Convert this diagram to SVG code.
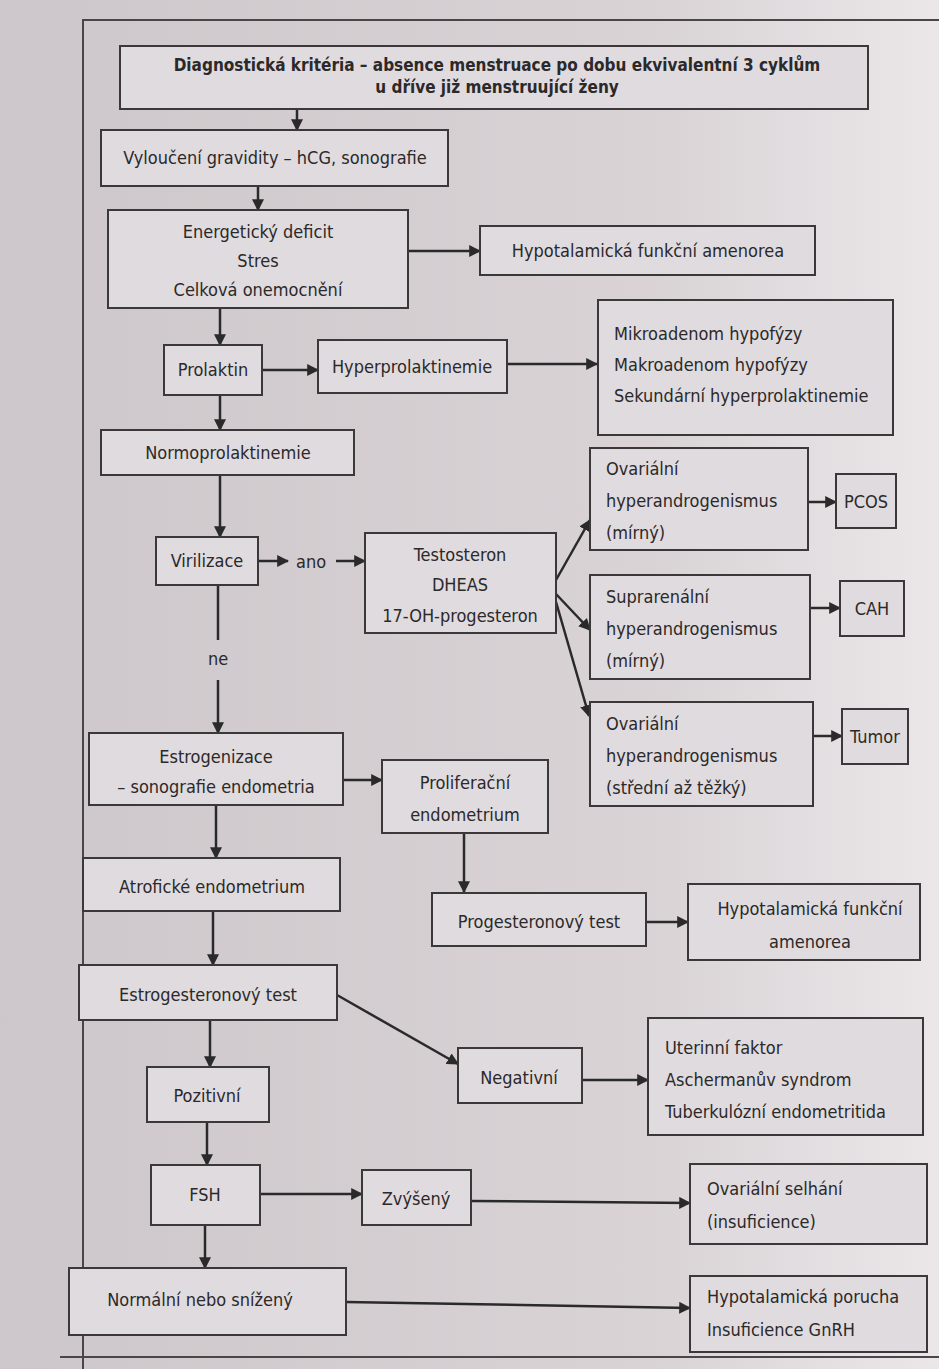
<svg xmlns="http://www.w3.org/2000/svg" width="939" height="1369" viewBox="0 0 939 1369">
<defs>
<linearGradient id="bg" x1="0" y1="0" x2="1" y2="0">
<stop offset="0" stop-color="#cdc6ca"/>
<stop offset="0.7" stop-color="#d9d3d6"/>
<stop offset="1" stop-color="#ebe7e9"/>
</linearGradient>
<marker id="ah2" viewBox="0 0 10 10" refX="9" refY="5" markerWidth="12" markerHeight="12" markerUnits="userSpaceOnUse" orient="auto">
<path d="M0,0 L10,5 L0,10 z" fill="#2a2a2a"/>
</marker>
</defs>
<style>
.box{fill:#e0dbde;stroke:#3a3838;stroke-width:2}
.t{font-family:"DejaVu Sans Condensed","Liberation Sans Narrow","DejaVu Sans",sans-serif;font-stretch:condensed;font-size:18px;fill:#2b2929}
.c{text-anchor:middle}
.b{font-weight:bold;font-size:17px}
.ln{stroke:#2a2a2a;stroke-width:2.5;fill:none;marker-end:url(#ah2)}
</style>
<rect x="0" y="0" width="939" height="1369" fill="url(#bg)"/>
<path d="M83,1369 L83,20 L939,20 M60,1357 L939,1357" stroke="#4a4648" stroke-width="2" fill="none"/>
<g id="connectors">
<line class="ln" x1="297" y1="109" x2="297" y2="130"/>
<line class="ln" x1="258" y1="186" x2="258" y2="210"/>
<line class="ln" x1="408" y1="251" x2="480" y2="251"/>
<line class="ln" x1="220" y1="308" x2="220" y2="345"/>
<line class="ln" x1="262" y1="370" x2="318" y2="370"/>
<line class="ln" x1="507" y1="364" x2="597" y2="364"/>
<line class="ln" x1="220" y1="395" x2="220" y2="430"/>
<line class="ln" x1="220" y1="475" x2="220" y2="537"/>
<line class="ln" x1="259" y1="561" x2="288" y2="561"/>
<line class="ln" x1="336" y1="561" x2="365" y2="561"/>
<line class="ln" x1="556" y1="580" x2="590" y2="520"/>
<line class="ln" x1="556" y1="594" x2="590" y2="630"/>
<line class="ln" x1="556" y1="602" x2="589" y2="716"/>
<line class="ln" x1="808" y1="502" x2="836" y2="502"/>
<line class="ln" x1="810" y1="608" x2="840" y2="608"/>
<line class="ln" x1="813" y1="736" x2="842" y2="736"/>
<line stroke="#2a2a2a" stroke-width="2.5" x1="218" y1="585" x2="218" y2="640"/>
<line class="ln" x1="218" y1="680" x2="218" y2="733"/>
<line class="ln" x1="343" y1="780" x2="382" y2="780"/>
<line class="ln" x1="216" y1="805" x2="216" y2="858"/>
<line class="ln" x1="464" y1="833" x2="464" y2="892"/>
<line class="ln" x1="646" y1="922" x2="688" y2="922"/>
<line class="ln" x1="213" y1="911" x2="213" y2="965"/>
<line class="ln" x1="337" y1="995" x2="458" y2="1064"/>
<line class="ln" x1="210" y1="1020" x2="210" y2="1067"/>
<line class="ln" x1="582" y1="1080" x2="648" y2="1080"/>
<line class="ln" x1="207" y1="1122" x2="207" y2="1165"/>
<line class="ln" x1="260" y1="1194" x2="362" y2="1194"/>
<line class="ln" x1="471" y1="1201" x2="690" y2="1203"/>
<line class="ln" x1="205" y1="1225" x2="205" y2="1268"/>
<line class="ln" x1="346" y1="1302" x2="690" y2="1308"/>
</g>
<g id="title"><rect class="box" x="120" y="46" width="748" height="63"/>
<text class="t c b" x="497" y="71">Diagnostická kritéria – absence menstruace po dobu ekvivalentní 3 cyklům</text>
<text class="t c b" x="497" y="93">u dříve již menstruující ženy</text></g>
<g id="gravidita"><rect class="box" x="101" y="130" width="347" height="56"/>
<text class="t c" x="275" y="164">Vyloučení gravidity – hCG, sonografie</text></g>
<g id="deficit"><rect class="box" x="108" y="210" width="300" height="98"/>
<text class="t c" x="258" y="238">Energetický deficit</text>
<text class="t c" x="258" y="267">Stres</text>
<text class="t c" x="258" y="296">Celková onemocnění</text></g>
<g id="hfa1"><rect class="box" x="480" y="226" width="335" height="49"/>
<text class="t c" x="648" y="257">Hypotalamická funkční amenorea</text></g>
<g id="prolaktin"><rect class="box" x="164" y="345" width="98" height="50"/>
<text class="t c" x="213" y="376">Prolaktin</text></g>
<g id="hyperprl"><rect class="box" x="318" y="340" width="189" height="53"/>
<text class="t c" x="412" y="373">Hyperprolaktinemie</text></g>
<g id="adenom"><rect class="box" x="598" y="300" width="295" height="135"/>
<text class="t" x="614" y="340">Mikroadenom hypofýzy</text>
<text class="t" x="614" y="371">Makroadenom hypofýzy</text>
<text class="t" x="614" y="402">Sekundární hyperprolaktinemie</text></g>
<g id="normoprl"><rect class="box" x="101" y="430" width="253" height="45"/>
<text class="t c" x="228" y="459">Normoprolaktinemie</text></g>
<g id="virilizace"><rect class="box" x="156" y="537" width="102" height="48"/>
<text class="t c" x="207" y="567">Virilizace</text></g>
<text id="ano" class="t c" x="311" y="568">ano</text>
<g id="testosteron"><rect class="box" x="365" y="533" width="191" height="100"/>
<text class="t c" x="460" y="561">Testosteron</text>
<text class="t c" x="460" y="591">DHEAS</text>
<text class="t c" x="460" y="622">17-OH-progesteron</text></g>
<g id="ovar1"><rect class="box" x="590" y="448" width="218" height="102"/>
<text class="t" x="606" y="475">Ovariální</text>
<text class="t" x="606" y="507">hyperandrogenismus</text>
<text class="t" x="606" y="539">(mírný)</text></g>
<g id="pcos"><rect class="box" x="836" y="474" width="60" height="54"/>
<text class="t c" x="866" y="508">PCOS</text></g>
<g id="supra"><rect class="box" x="590" y="575" width="220" height="104"/>
<text class="t" x="606" y="603">Suprarenální</text>
<text class="t" x="606" y="635">hyperandrogenismus</text>
<text class="t" x="606" y="667">(mírný)</text></g>
<g id="cah"><rect class="box" x="840" y="581" width="64" height="55"/>
<text class="t c" x="872" y="615">CAH</text></g>
<g id="ovar2"><rect class="box" x="590" y="702" width="223" height="104"/>
<text class="t" x="606" y="730">Ovariální</text>
<text class="t" x="606" y="762">hyperandrogenismus</text>
<text class="t" x="606" y="794">(střední až těžký)</text></g>
<g id="tumor"><rect class="box" x="842" y="709" width="66" height="55"/>
<text class="t c" x="875" y="743">Tumor</text></g>
<text id="ne" class="t c" x="218" y="665">ne</text>
<g id="estrogenizace"><rect class="box" x="89" y="733" width="254" height="72"/>
<text class="t c" x="216" y="763">Estrogenizace</text>
<text class="t c" x="216" y="793">– sonografie endometria</text></g>
<g id="prolif"><rect class="box" x="382" y="760" width="166" height="73"/>
<text class="t c" x="465" y="789">Proliferační</text>
<text class="t c" x="465" y="821">endometrium</text></g>
<g id="atrof"><rect class="box" x="83" y="858" width="257" height="53"/>
<text class="t c" x="212" y="893">Atrofické endometrium</text></g>
<g id="progtest"><rect class="box" x="432" y="893" width="214" height="53"/>
<text class="t c" x="539" y="928">Progesteronový test</text></g>
<g id="hfa2"><rect class="box" x="688" y="884" width="232" height="76"/>
<text class="t c" x="810" y="915">Hypotalamická funkční</text>
<text class="t c" x="810" y="948">amenorea</text></g>
<g id="estrogest"><rect class="box" x="79" y="965" width="258" height="55"/>
<text class="t c" x="208" y="1001">Estrogesteronový test</text></g>
<g id="negativni"><rect class="box" x="458" y="1048" width="124" height="55"/>
<text class="t c" x="519" y="1084">Negativní</text></g>
<g id="uterin"><rect class="box" x="648" y="1018" width="275" height="117"/>
<text class="t" x="665" y="1054">Uterinní faktor</text>
<text class="t" x="665" y="1086">Aschermanův syndrom</text>
<text class="t" x="665" y="1118">Tuberkulózní endometritida</text></g>
<g id="pozitivni"><rect class="box" x="147" y="1067" width="122" height="55"/>
<text class="t c" x="207" y="1102">Pozitivní</text></g>
<g id="fsh"><rect class="box" x="151" y="1165" width="109" height="60"/>
<text class="t c" x="205" y="1201">FSH</text></g>
<g id="zvyseny"><rect class="box" x="362" y="1170" width="109" height="55"/>
<text class="t c" x="416" y="1205">Zvýšený</text></g>
<g id="selhani"><rect class="box" x="690" y="1164" width="237" height="80"/>
<text class="t" x="707" y="1195">Ovariální selhání</text>
<text class="t" x="707" y="1228">(insuficience)</text></g>
<g id="normalni"><rect class="box" x="69" y="1268" width="277" height="67"/>
<text class="t c" x="200" y="1306">Normální nebo snížený</text></g>
<g id="porucha"><rect class="box" x="690" y="1276" width="237" height="76"/>
<text class="t" x="707" y="1303">Hypotalamická porucha</text>
<text class="t" x="707" y="1336">Insuficience GnRH</text></g>
</svg>
